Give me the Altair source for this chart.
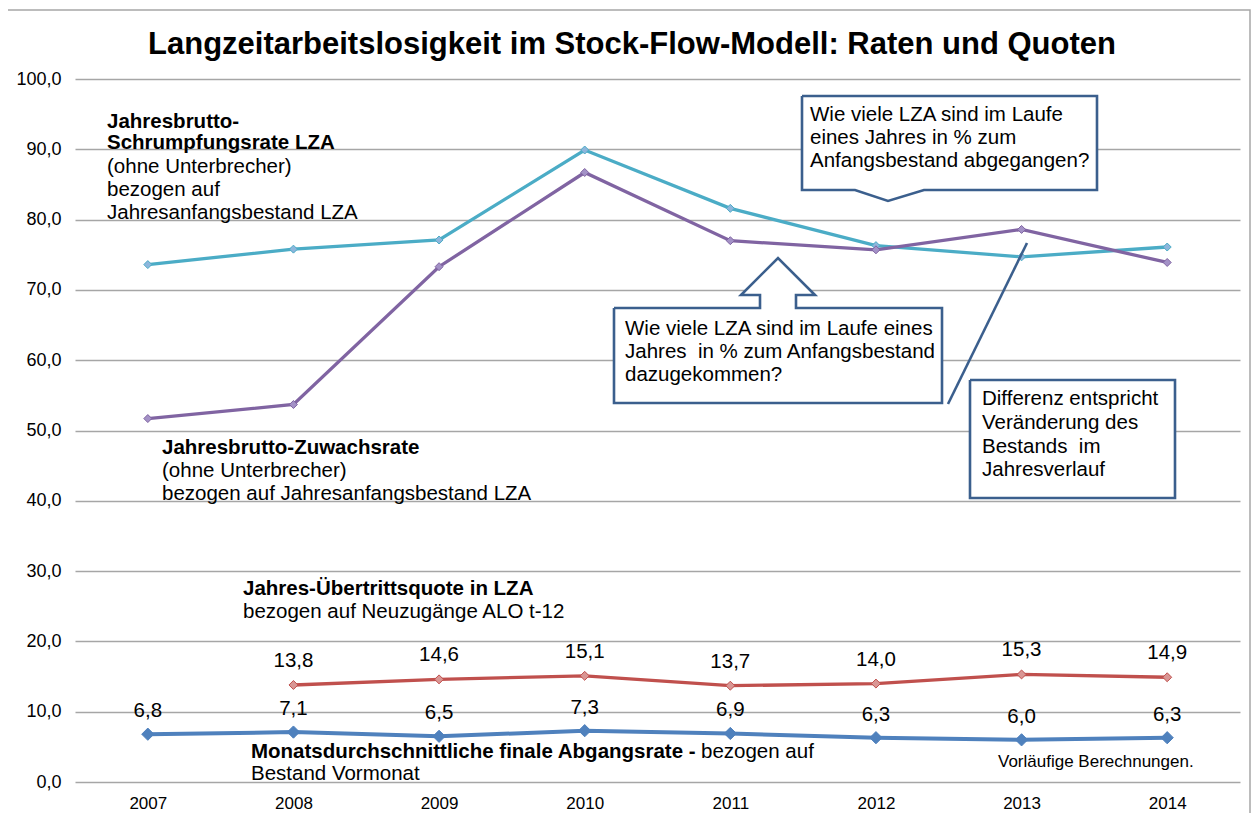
import altair as alt
import pandas as pd

# ---------------- data ----------------
years = ["2007", "2008", "2009", "2010", "2011", "2012", "2013", "2014"]
schrumpfungsrate = [73.6, 75.8, 77.1, 89.9, 81.6, 76.3, 74.7, 76.1]
zuwachsrate = [51.7, 53.7, 73.3, 86.7, 77.0, 75.7, 78.6, 73.9]
uebertritt_years = ["2008", "2009", "2010", "2011", "2012", "2013", "2014"]
uebertrittsquote = [13.8, 14.6, 15.1, 13.7, 14.0, 15.3, 14.9]
abgangsrate = [6.8, 7.1, 6.5, 7.3, 6.9, 6.3, 6.0, 6.3]
y_ticks = [0, 10, 20, 30, 40, 50, 60, 70, 80, 90, 100]

title_text = "Langzeitarbeitslosigkeit im Stock-Flow-Modell: Raten und Quoten"

# ---------------- layout (page pixels) ----------------
PL, PT = 75, 79          # plot origin on the page
W, H = 1165, 703
TOTAL_W, TOTAL_H = 1243, 805
FONT = "Liberation Sans"
BOX = "#3B5F8D"
FS = 20.5


def px(v):
    return v - PL


def py(v):
    return v - PT


# annotation texts: (text, x, y, bold, size)
notes = [
    ("Jahresbrutto-", 107, 122, True, FS),
    ("Schrumpfungsrate LZA", 107, 143, True, FS),
    ("(ohne Unterbrecher)", 107, 167, False, FS),
    ("bezogen auf", 107, 190, False, FS),
    ("Jahresanfangsbestand LZA", 107, 213, False, FS),
    ("Jahresbrutto-Zuwachsrate", 162, 448, True, FS),
    ("(ohne Unterbrecher)", 162, 471, False, FS),
    ("bezogen auf Jahresanfangsbestand LZA", 162, 494, False, FS),
    ("Jahres-Übertrittsquote in LZA", 243, 589, True, FS),
    ("bezogen auf Neuzugänge ALO t-12", 243, 612, False, FS),
    ("Monatsdurchschnittliche finale Abgangsrate -", 251, 752, True, FS),
    ("bezogen auf", 701, 752, False, FS),
    ("Bestand Vormonat", 251, 774, False, FS),
    ("Vorläufige Berechnungen.", 998, 762, False, 17),
    ("Wie viele LZA sind im Laufe", 810, 115, False, FS),
    ("eines Jahres in % zum", 810, 138, False, FS),
    ("Anfangsbestand abgegangen?", 810, 161, False, FS),
    ("Wie viele LZA sind im Laufe eines", 625, 329, False, FS),
    ("Jahres \u00a0in % zum Anfangsbestand", 625, 352, False, FS),
    ("dazugekommen?", 625, 375, False, FS),
    ("Differenz entspricht", 982, 399, False, FS),
    ("Veränderung des", 982, 423, False, FS),
    ("Bestands \u00a0im", 982, 447, False, FS),
    ("Jahresverlauf", 982, 470, False, FS),
]

# callout outlines (page pixels)
callouts = {
    "c1": [(802, 96), (1097, 96), (1097, 190), (924, 190), (888, 201), (855, 190), (802, 190), (802, 96)],
    "c2": [(614, 308), (760, 308), (760, 295), (741, 295), (778, 258), (815, 295), (796, 295),
           (796, 308), (942, 308), (942, 403), (614, 403), (614, 308)],
    "c3": [(970, 380), (1175, 380), (1175, 498), (970, 498), (970, 380)],
}
pointer = [(948, 404), (1027, 243)]

# ---------------- encodings ----------------
x_enc = alt.X(
    "year:O",
    scale=alt.Scale(type="point", padding=0.5, domain=years),
    axis=alt.Axis(title=None, labelAngle=0, domain=False, ticks=False, grid=False,
                  labelFontSize=17, labelPadding=13, labelColor="black", labelFont=FONT),
)
y_enc = alt.Y(
    "v:Q",
    scale=alt.Scale(domain=[0, 100], nice=False, zero=True),
    axis=alt.Axis(title=None, values=y_ticks,
                  labelExpr="replace(format(datum.value, '.1f'), '.', ',')",
                  domain=False, ticks=False, grid=True, gridColor="#A6A6A6", gridWidth=1.3,
                  labelFontSize=18, labelPadding=14, labelColor="black", labelFont=FONT),
)


def series(yrs, vals, color, width, msize, mfill, label_dy=None):
    df = pd.DataFrame({"year": yrs, "v": vals})
    base = alt.Chart(df).encode(x=x_enc, y=y_enc)
    layers = [
        base.mark_line(color=color, strokeWidth=width),
        base.mark_point(shape="diamond", filled=True, size=msize, fill=mfill,
                        stroke=color, strokeWidth=1, opacity=1),
    ]
    if label_dy is not None:
        layers.append(
            base.transform_calculate(lab="replace(format(datum.v, '.1f'), '.', ',')")
            .mark_text(dy=label_dy, fontSize=FS, font=FONT, color="black")
            .encode(text="lab:N")
        )
    return layers


data_layers = []
data_layers += series(years, schrumpfungsrate, "#4BACC6", 3.3, 64, "#8DB6DC")
data_layers += series(years, zuwachsrate, "#8064A2", 3.3, 64, "#A391C6")
data_layers += series(uebertritt_years, uebertrittsquote, "#C0504D", 3.3, 80, "#D99694", label_dy=-24)
data_layers += series(years, abgangsrate, "#4F81BD", 4, 150, "#4F81BD", label_dy=-23)

# outer chart border
border = alt.Chart(pd.DataFrame({"a": [0]})).mark_rect(
    fillOpacity=0, stroke="#A6A6A6", strokeWidth=1.5
).encode(x=alt.value(px(7)), x2=alt.value(px(8 + TOTAL_W - 1)), y=alt.value(py(10)), y2=alt.value(py(840)))

title = alt.Chart(pd.DataFrame({"t": [title_text]})).mark_text(
    fontSize=31, fontWeight="bold", font=FONT, color="black", baseline="alphabetic", align="center"
).encode(text="t:N", x=alt.value(px(632)), y=alt.value(py(54)))

# callout shapes
rows = []
for name, pts in callouts.items():
    for i, (a, b) in enumerate(pts):
        rows.append({"shape": name, "i": i, "px": px(a), "py": py(b)})
cdf = pd.DataFrame(rows)
callout_layer = alt.Chart(cdf).mark_line(
    fill="white", stroke=BOX, strokeWidth=2.6, strokeJoin="miter"
).encode(
    x=alt.X("px:Q", scale=None, axis=None),
    y=alt.Y("py:Q", scale=None, axis=None),
    order="i:Q",
    detail="shape:N",
)

pdf = pd.DataFrame([{"i": i, "px": px(a), "py": py(b)} for i, (a, b) in enumerate(pointer)])
pointer_layer = alt.Chart(pdf).mark_line(stroke=BOX, strokeWidth=2.6).encode(
    x=alt.X("px:Q", scale=None, axis=None),
    y=alt.Y("py:Q", scale=None, axis=None),
    order="i:Q",
)

ndf = pd.DataFrame([{"text": t, "px": px(a), "py": py(b), "bold": bo, "size": s}
                    for t, a, b, bo, s in notes])


def note_layer(bold, size):
    return alt.Chart(ndf).transform_filter(
        f"datum.bold == {'true' if bold else 'false'} && datum.size == {size}"
    ).mark_text(
        align="left", baseline="middle", font=FONT, fontSize=size,
        fontWeight="bold" if bold else "normal", color="black"
    ).encode(
        text="text:N",
        x=alt.X("px:Q", scale=None, axis=None),
        y=alt.Y("py:Q", scale=None, axis=None),
    )


chart = alt.layer(
    border,
    title,
    *data_layers,
    callout_layer,
    pointer_layer,
    note_layer(True, FS),
    note_layer(False, FS),
    note_layer(False, 17),
).properties(
    width=W,
    height=H,
    autosize=alt.AutoSizeParams(type="none"),
    padding={"left": PL - 8, "top": PT - 8, "right": TOTAL_W - (PL - 8) - W,
             "bottom": TOTAL_H - (PT - 8) - H},
    background="white",
).configure_view(strokeWidth=0)

chart.save("out.html", embed_options={"renderer": "svg", "actions": False})
